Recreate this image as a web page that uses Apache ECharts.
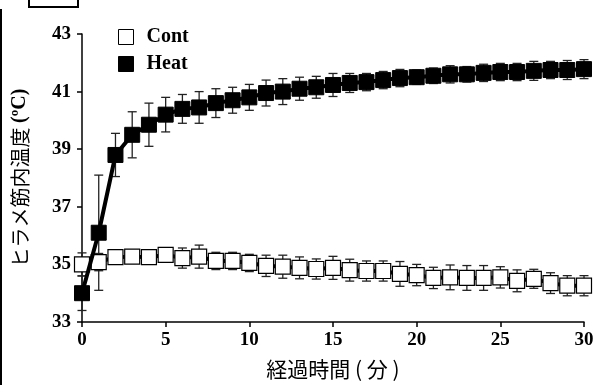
<!DOCTYPE html>
<html><head><meta charset="utf-8">
<script src="https://cdn.jsdelivr.net/npm/echarts@6/dist/echarts.min.js"></script>
<style>html,body{margin:0;padding:0;background:#fff}#c{width:600px;height:385px}</style>
</head><body><div id="c"></div>
<script>
const minutes = [0,1,2,3,4,5,6,7,8,9,10,11,12,13,14,15,16,17,18,19,20,21,22,23,24,25,26,27,28,29,30];
const heatMean = [34.0,36.1,38.8,39.5,39.85,40.2,40.4,40.45,40.6,40.7,40.8,40.95,41.0,41.1,41.15,41.23,41.3,41.33,41.4,41.47,41.5,41.55,41.6,41.6,41.65,41.68,41.68,41.72,41.75,41.75,41.78];
const heatErr = [0.6,2.0,0.75,0.8,0.75,0.6,0.5,0.55,0.5,0.45,0.45,0.45,0.45,0.4,0.38,0.4,0.33,0.3,0.3,0.3,0.25,0.27,0.3,0.27,0.3,0.3,0.3,0.33,0.3,0.33,0.33];
const contMean = [35.0,35.08,35.25,35.27,35.25,35.33,35.22,35.27,35.12,35.12,35.05,34.95,34.92,34.88,34.84,34.88,34.8,34.77,34.77,34.67,34.63,34.53,34.55,34.53,34.53,34.55,34.43,34.5,34.35,34.26,34.26];
const contErr = [0.4,0.3,0.2,0.1,0.1,0.1,0.35,0.4,0.3,0.3,0.3,0.37,0.4,0.38,0.35,0.4,0.38,0.35,0.35,0.43,0.37,0.37,0.43,0.43,0.43,0.37,0.38,0.33,0.36,0.35,0.35];
const xTicks = {min:0,max:30,interval:5};
const yTicks = {min:33,max:43,interval:2};

const serif = '"Liberation Serif","Times New Roman",serif';
const cjk = '"Noto Sans CJK JP","Noto Sans",sans-serif';

function errData(mean, err){ return minutes.map((t,i)=>[t, mean[i]-err[i], mean[i]+err[i]]); }
function errRender(params, api){
  const x = api.value(0);
  const lo = api.coord([x, api.value(1)]);
  const hi = api.coord([x, api.value(2)]);
  const w = 4.5;
  const st = {stroke:'#222', lineWidth:1.3};
  return {type:'group', children:[
    {type:'line', shape:{x1:lo[0],y1:lo[1],x2:hi[0],y2:hi[1]}, style:st},
    {type:'line', shape:{x1:lo[0]-w,y1:lo[1],x2:lo[0]+w,y2:lo[1]}, style:st},
    {type:'line', shape:{x1:hi[0]-w,y1:hi[1],x2:hi[0]+w,y2:hi[1]}, style:st}
  ]};
}

const chart = echarts.init(document.getElementById('c'));
chart.setOption({
  animation:false,
  backgroundColor:'#fff',
  grid:{left:82,right:16,top:34,bottom:63},
  legend:{
    orient:'vertical', left:113, top:22, itemGap:7, itemWidth:15, itemHeight:15,
    textStyle:{fontFamily:serif, fontWeight:'bold', fontSize:20, color:'#000', padding:[0,0,0,8]},
    data:[
      {name:'Cont', icon:'rect', itemStyle:{color:'#fff', borderColor:'#000', borderWidth:1}},
      {name:'Heat', icon:'rect', itemStyle:{color:'#000', borderColor:'#000', borderWidth:1}}
    ]
  },
  xAxis:{
    type:'value', min:xTicks.min, max:xTicks.max, interval:xTicks.interval,
    splitLine:{show:false},
    axisLine:{lineStyle:{color:'#000', width:1.5}},
    axisTick:{inside:false, length:5, lineStyle:{color:'#000', width:1.5}},
    axisLabel:{fontFamily:serif, fontWeight:'bold', fontSize:19, color:'#000', margin:9},
    name:'経過時間 ( 分 )', nameLocation:'middle', nameGap:37,
    nameTextStyle:{fontFamily:cjk, fontSize:21, color:'#000'}
  },
  yAxis:{
    type:'value', min:yTicks.min, max:yTicks.max, interval:yTicks.interval,
    splitLine:{show:false},
    axisLine:{show:true, lineStyle:{color:'#000', width:1.5}},
    axisTick:{show:true, inside:false, length:5, lineStyle:{color:'#000', width:1.5}},
    axisLabel:{fontFamily:serif, fontWeight:'bold', fontSize:19, color:'#000', margin:11},
    name:'{a|ヒラメ筋内温度 }{b|(ºC)}', nameLocation:'middle', nameGap:52,
    nameTextStyle:{rich:{
      a:{fontFamily:cjk, fontSize:20, color:'#000'},
      b:{fontFamily:serif, fontWeight:'bold', fontSize:20, color:'#000'}
    }}
  },
  series:[
    {type:'custom', name:'errHeat', data:errData(heatMean,heatErr), renderItem:errRender, z:1, silent:true, encode:{x:0,y:[1,2]}},
    {type:'custom', name:'errCont', data:errData(contMean,contErr), renderItem:errRender, z:1, silent:true, encode:{x:0,y:[1,2]}},
    {type:'line', name:'Cont', data:minutes.map((t,i)=>[t,contMean[i]]), symbol:'rect', symbolSize:15,
     lineStyle:{color:'#000', width:4}, itemStyle:{color:'#fff', borderColor:'#000', borderWidth:1.2}, z:3},
    {type:'line', name:'Heat', data:minutes.map((t,i)=>[t,heatMean[i]]), symbol:'rect', symbolSize:15,
     lineStyle:{color:'#000', width:4}, itemStyle:{color:'#000', borderColor:'#000', borderWidth:1}, z:4}
  ],
  graphic:[
    {type:'line', shape:{x1:1,y1:9,x2:1,y2:385}, style:{stroke:'#000', lineWidth:2}},
    {type:'rect', shape:{x:29,y:-20,width:49,height:27}, style:{fill:'#fff', stroke:'#000', lineWidth:2}},
    {type:'text', left:36, top:-18, style:{text:'図1', font:'18px "Noto Sans CJK JP"', fill:'#000'}}
  ]
});
</script></body></html>
